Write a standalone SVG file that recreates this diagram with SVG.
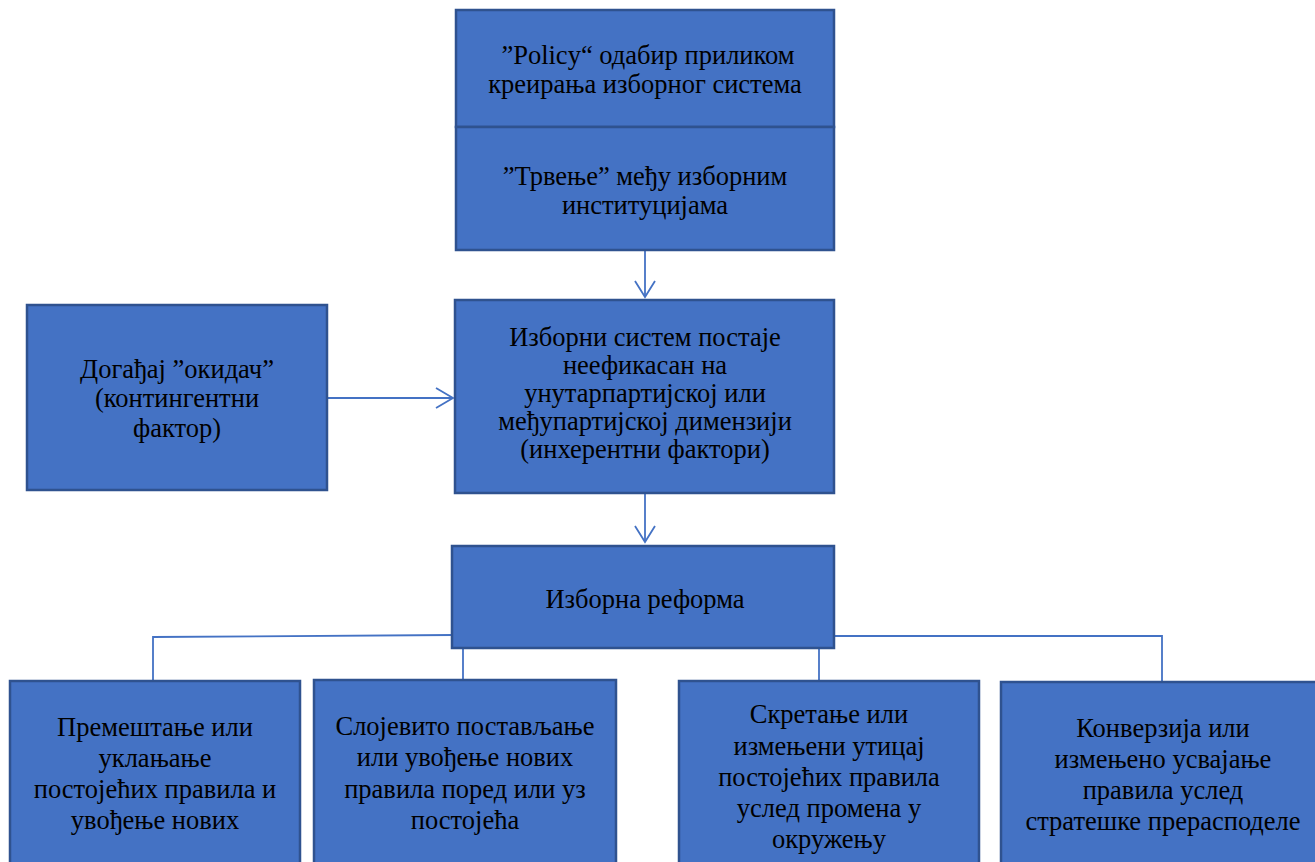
<svg xmlns="http://www.w3.org/2000/svg" width="1315" height="862" viewBox="0 0 1315 862">
<style>
.box{fill:#4472C4;stroke:#2F528F;stroke-width:2.5}
.t{font-family:"Liberation Serif","Times New Roman",serif;font-size:26.5px;fill:#000;text-anchor:middle}
.c{fill:none;stroke:#4472C4;stroke-width:1.8}
</style>
<rect width="1315" height="862" fill="#fff"/>
<g id="connectors">
<line class="c" x1="645" y1="251" x2="645" y2="297"/>
<polyline class="c" points="635,281 645,297 655,281"/>
<line class="c" x1="327" y1="398" x2="453" y2="398"/>
<polyline class="c" points="436,388 453,398 436,408"/>
<line class="c" x1="645" y1="494" x2="645" y2="542"/>
<polyline class="c" points="635,526 645,542 655,526"/>
<polyline class="c" points="453,635 153,637 153,681"/>
<line class="c" x1="463" y1="649" x2="463" y2="680"/>
<line class="c" x1="819" y1="649" x2="819" y2="681"/>
<polyline class="c" points="834,636 1162,636 1162,682"/>
</g>
<g id="n1">
<rect class="box" x="456" y="10" width="378" height="117"/>
<text class="t" x="648" y="64">”Policy“ одабир приликом</text>
<text class="t" x="645" y="93">креирања изборног система</text>
</g>
<g id="n2">
<rect class="box" x="456" y="127" width="378" height="123"/>
<text class="t" x="645" y="185">”Трвење” међу изборним</text>
<text class="t" x="645" y="214">институцијама</text>
</g>
<g id="n3">
<rect class="box" x="27" y="305" width="300" height="185"/>
<text class="t" x="177" y="378">Догађај ”окидач”</text>
<text class="t" x="177" y="407">(контингентни</text>
<text class="t" x="177" y="437">фактор)</text>
</g>
<g id="n4">
<rect class="box" x="455" y="300" width="379" height="193"/>
<text class="t" x="645" y="346">Изборни систем постаје</text>
<text class="t" x="645" y="374">неефикасан на</text>
<text class="t" x="645" y="402">унутарпартијској или</text>
<text class="t" x="645" y="430">међупартијској димензији</text>
<text class="t" x="645" y="458">(инхерентни фактори)</text>
</g>
<g id="n5">
<rect class="box" x="452" y="546" width="382" height="102"/>
<text class="t" x="645" y="608">Изборна реформа</text>
</g>
<g id="n6">
<rect class="box" x="10" y="681" width="290" height="185"/>
<text class="t" x="155" y="736">Премештање или</text>
<text class="t" x="155" y="767">уклањање</text>
<text class="t" x="155" y="798">постојећих правила и</text>
<text class="t" x="155" y="829">увођење нових</text>
</g>
<g id="n7">
<rect class="box" x="314" y="680" width="302" height="186"/>
<text class="t" x="465" y="735">Слојевито постављање</text>
<text class="t" x="465" y="766">или увођење нових</text>
<text class="t" x="465" y="798">правила поред или уз</text>
<text class="t" x="465" y="829">постојећа</text>
</g>
<g id="n8">
<rect class="box" x="679" y="681" width="300" height="185"/>
<text class="t" x="829" y="723">Скретање или</text>
<text class="t" x="829" y="755">измењени утицај</text>
<text class="t" x="829" y="786">постојећих правила</text>
<text class="t" x="829" y="817">услед промена у</text>
<text class="t" x="829" y="848">окружењу</text>
</g>
<g id="n9">
<rect class="box" x="1001" y="682" width="324" height="184"/>
<text class="t" x="1163" y="737">Конверзија или</text>
<text class="t" x="1163" y="768">измењено усвајање</text>
<text class="t" x="1163" y="799">правила услед</text>
<text class="t" x="1163" y="830">стратешке прерасподеле</text>
</g>
</svg>
